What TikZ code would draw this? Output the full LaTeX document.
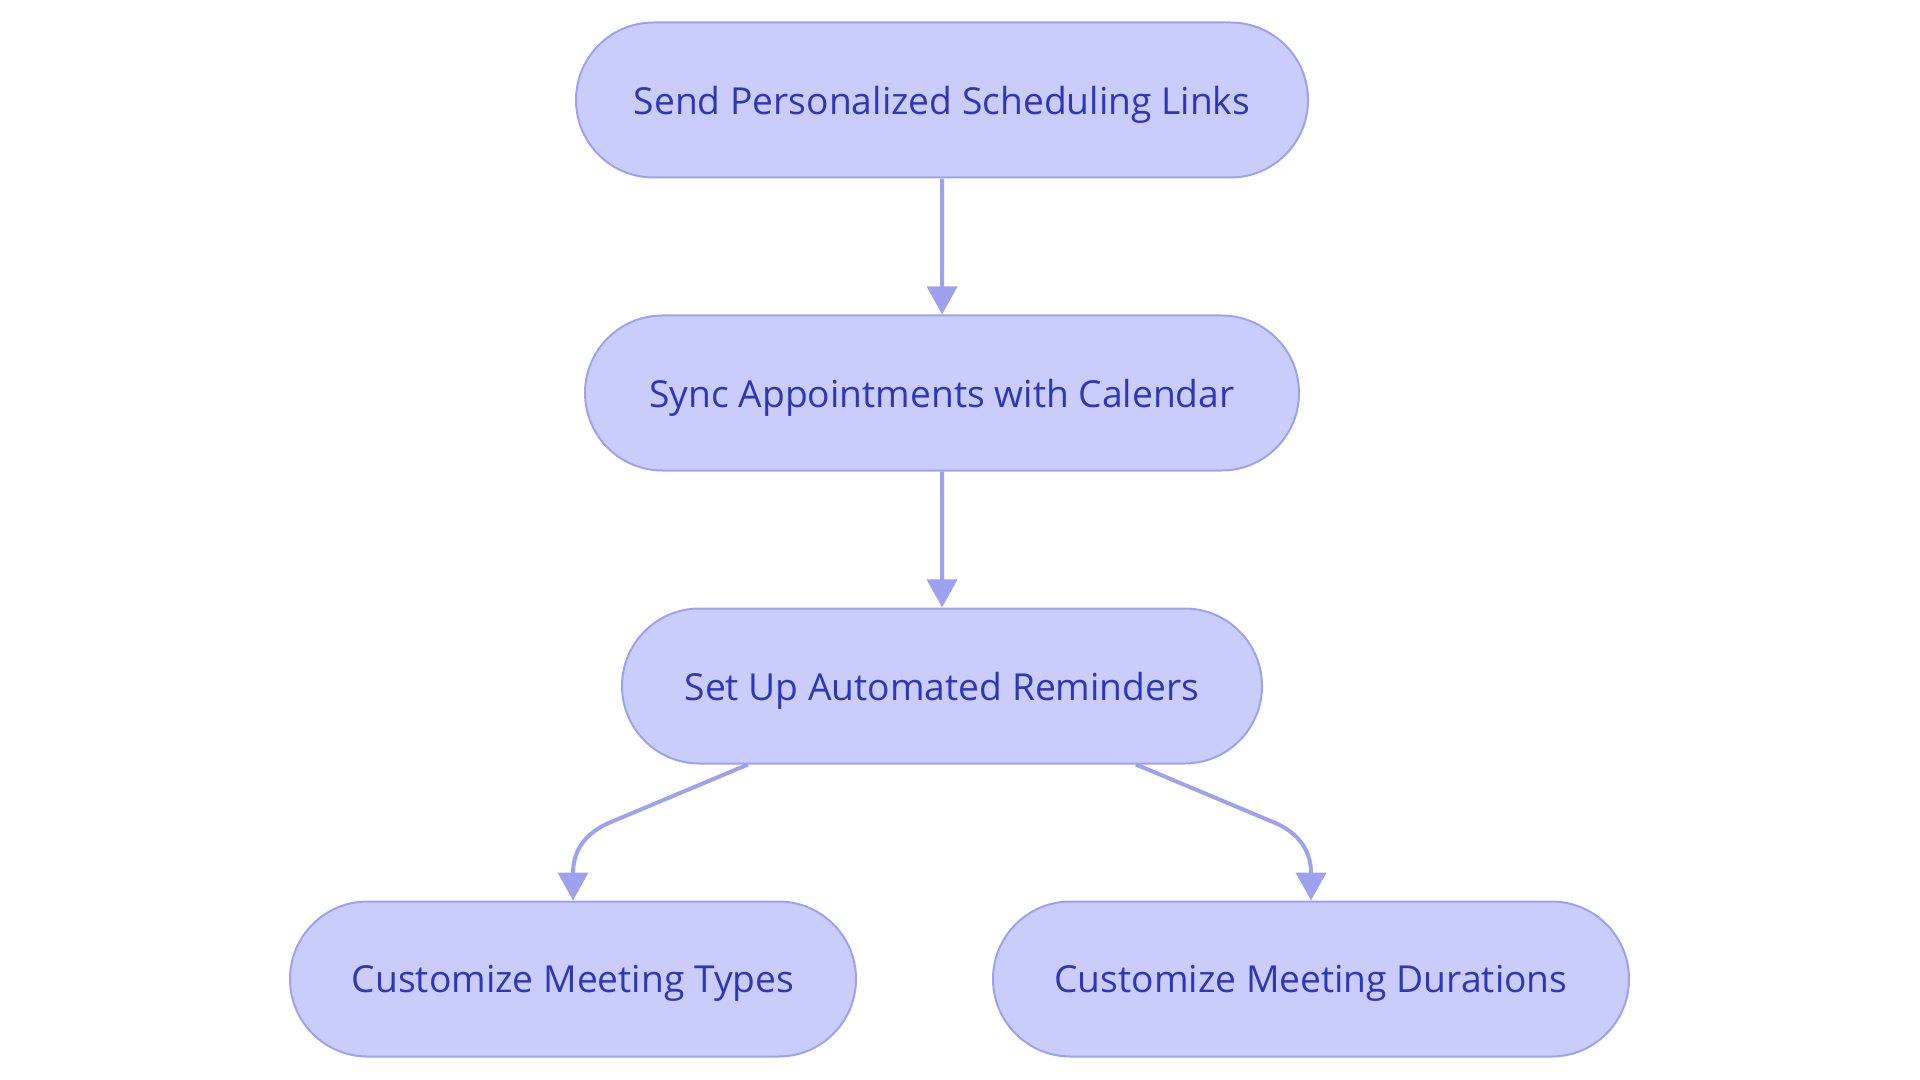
\documentclass[tikz,border=0pt]{standalone}
\usepackage{fontspec}
\setmainfont{Open Sans}
\usepackage{tikz}
\usetikzlibrary{arrows.meta,positioning,shapes.misc}
\definecolor{pillfill}{HTML}{CACCFC}
\definecolor{pilldraw}{HTML}{9EA2EE}
\definecolor{pilltext}{HTML}{2F36B8}
\tikzstyle{pill}=[rounded rectangle,fill=pillfill,draw=pilldraw,line width=1pt,
  text=pilltext,minimum height=77.5pt,inner xsep=0pt,text depth=0pt,
  font=\fontsize{18.6}{22}\selectfont]
\tikzstyle{flow}=[draw=pilldraw,line width=2pt,
  -{Triangle[width=15pt,length=14pt,fill=pilldraw]}]
\tikzset{every picture/.style={line width=0.5pt}}

\begin{document}
\begin{tikzpicture}[x=0.5pt,y=-0.5pt]
\useasboundingbox (0,0) rectangle (1920,1080);
\node[pill,minimum width=366pt] (A) at (942,100) {Send Personalized Scheduling Links};
\node[pill,minimum width=357pt] (B) at (942,393) {Sync Appointments with Calendar};
\node[pill,minimum width=320pt] (C) at (942,686) {Set Up Automated Reminders};
\node[pill,minimum width=283pt] (D) at (573,979) {Customize Meeting Types};
\node[pill,minimum width=318pt] (E) at (1311,979) {Customize Meeting Durations};
\path
(A) edge[flow] (B)
(B) edge[flow] (C);
\draw[flow]
([xshift=-97pt]C.south) -- (611,822) .. controls (577,836) and (573,860) .. (D.north);
\draw[flow]
([xshift=97pt]C.south) -- (1273,822) .. controls (1307,836) and (1311,860) .. (E.north);
\end{tikzpicture}
\end{document}
